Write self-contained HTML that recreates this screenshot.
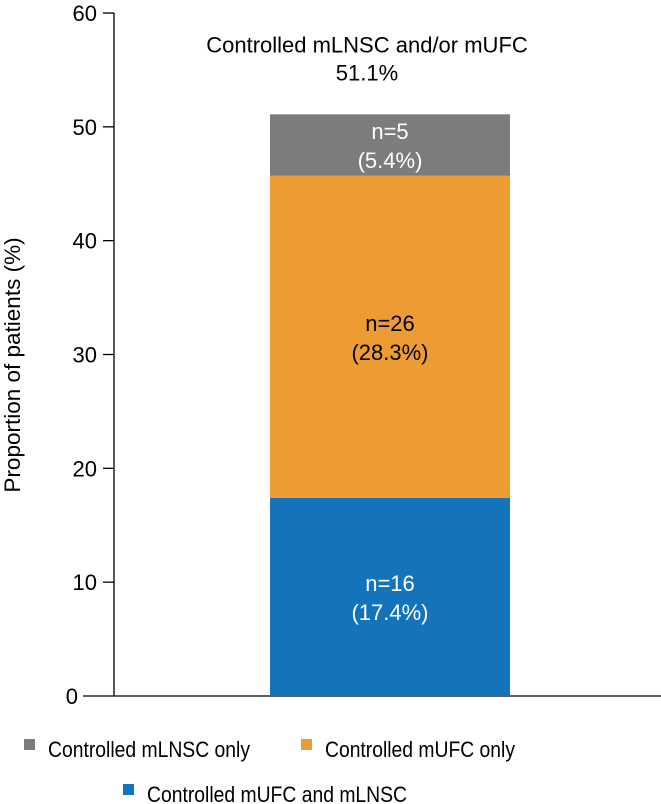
<!DOCTYPE html>
<html><head><meta charset="utf-8"><style>
body{margin:0;background:#fff;}
svg{display:block;font-family:"Liberation Sans",Arial,sans-serif;}
</style></head><body>
<svg id="chart" width="661" height="804"></svg>
<script>
const ticks=[0,10,20,30,40,50,60];
const segNames=["Controlled mUFC and mLNSC","Controlled mUFC only","Controlled mLNSC only"];
const segValues=[17.4,28.3,5.4];
const segCounts=[16,26,5];
const segColors=["#1474bb","#ec9c33","#7a7d7c"];
const segText=["#fff","#000","#fff"];
const totalLabel="Controlled mLNSC and/or mUFC";
const totalValue=51.1;
const NS="http://www.w3.org/2000/svg";
const svg=document.getElementById('chart');
const y0=696,y60=13;
const y=v=>y0-(v/60)*(y0-y60);
function mk(t,a,p){const e=document.createElementNS(NS,t);for(const k in a)e.setAttribute(k,a[k]);(p||svg).appendChild(e);return e;}
let ax=mk('line',{x1:114,y1:y60,x2:114,y2:y0,stroke:'#000','stroke-width':1.3});


let xa=mk('line',{x1:83,y1:y0,x2:661,y2:y0,stroke:'#000','stroke-width':1.3});


ticks.forEach(t=>{
  if(t>0){let l=mk('line',{x1:103,y1:y(t),x2:114,y2:y(t),stroke:'#000','stroke-width':1.3});
  
  }
  let tx=mk('text',{x:t===0?78:97,y:y(t)+8,'text-anchor':'end','font-size':22});
  tx.textContent=t;
  
  
});
let yt=mk('text',{x:20,y:365,'text-anchor':'middle','font-size':22.5,transform:'rotate(-90 20 365)'});
yt.textContent='Proportion of patients (%)';


let cum=0;const bx=270,bw=240;
segValues.forEach((v,i)=>{
  const top=y(cum+v),bot=y(cum);
  let r=mk('rect',{x:bx,y:top,width:bw,height:bot-top,fill:segColors[i]});
  
  
  const mid=(top+bot)/2;
  let t1=mk('text',{x:bx+bw/2,y:mid-6,'text-anchor':'middle','font-size':22,fill:segText[i]});
  t1.textContent='n='+segCounts[i];
  
  
  let t2=mk('text',{x:bx+bw/2,y:mid+23,'text-anchor':'middle','font-size':22,fill:segText[i]});
  t2.textContent='('+v.toFixed(1)+'%)';
  
  
  cum+=v;
});
let tt=mk('text',{x:367,y:y(totalValue)-62,'text-anchor':'middle','font-size':22});
tt.textContent=totalLabel;


let tv=mk('text',{x:367,y:y(totalValue)-34,'text-anchor':'middle','font-size':22});
tv.textContent=totalValue.toFixed(1)+'%';


const leg=[[2,24,739,202],[1,301,739,190],[0,123,784,260]];
leg.forEach(([i,x,yy,w])=>{
  let s=mk('rect',{x:x,y:yy,width:11,height:11,fill:segColors[i]});
  
  
  let t=mk('text',{x:x+24,y:yy+18,'font-size':22,textLength:w,lengthAdjust:'spacingAndGlyphs'});
  t.textContent=segNames[i];
  
  
});
</script>
</body></html>
